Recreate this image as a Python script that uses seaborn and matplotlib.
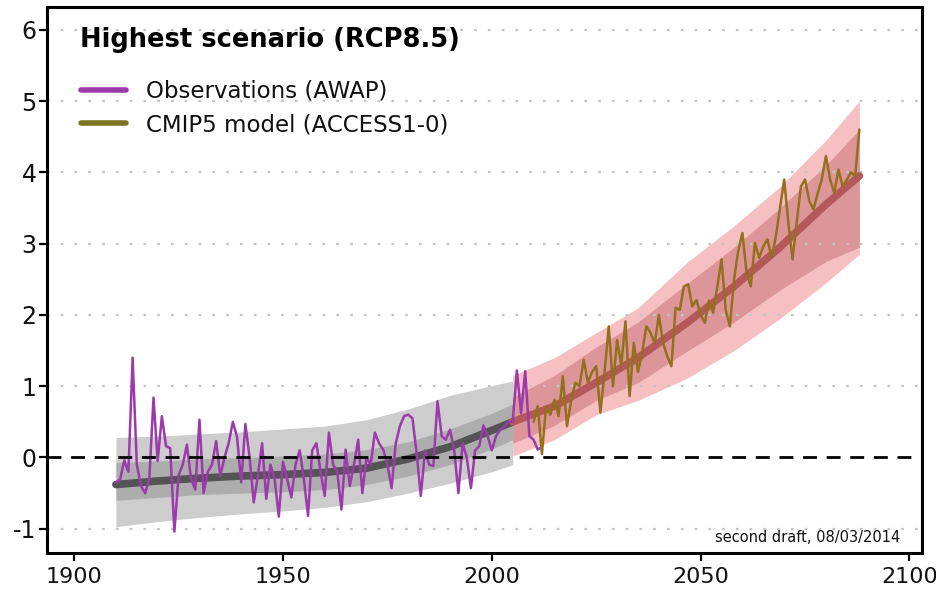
import numpy as np
import pandas as pd
import matplotlib
matplotlib.use("Agg")
import matplotlib.pyplot as plt
from matplotlib.lines import Line2D
import seaborn as sns

# ---------------- data ----------------
obs_years = list(range(1910, 2013))
obs_values = [
    -0.35, -0.31, -0.04, -0.20, 1.40, -0.10, -0.40, -0.50, -0.30, 0.84,
    -0.05, 0.58, 0.16, 0.13, -1.04, -0.25, -0.10, 0.18, -0.30, -0.45,
    0.53, -0.50, -0.20, -0.10, 0.23, -0.26, 0.00, 0.20, 0.50, 0.29,
    -0.35, 0.47, 0.00, -0.63, -0.25, 0.20, -0.58, -0.10, -0.30, -0.83,
    -0.06, -0.30, -0.56, -0.10, 0.10, -0.30, -0.82, 0.10, 0.20, -0.20,
    -0.54, 0.35, -0.10, -0.20, -0.73, 0.11, -0.40, -0.10, 0.25, -0.50,
    0.00, -0.10, 0.35, 0.20, 0.11, -0.10, -0.43, 0.20, 0.44, 0.58,
    0.60, 0.55, 0.06, -0.54, 0.10, -0.10, -0.12, 0.79, 0.30, 0.25,
    0.39, 0.10, -0.50, 0.20, 0.00, -0.43, 0.10, 0.16, 0.45, 0.30,
    0.10, 0.30, 0.39, 0.44, 0.50, 0.50, 1.22, 0.62, 1.21, 0.30,
    0.25, 0.11, 0.15,
]

model_years = list(range(2010, 2089))
model_values = [
    0.50, 0.72, 0.05, 0.72, 0.60, 0.81, 0.58, 1.14, 0.44, 0.80,
    1.05, 1.00, 1.37, 1.05, 1.20, 1.28, 0.63, 1.20, 1.84, 1.00,
    1.65, 1.30, 1.91, 0.86, 1.61, 1.20, 1.47, 1.84, 1.75, 1.60,
    2.00, 1.61, 1.42, 1.28, 2.10, 2.07, 2.40, 2.43, 2.12, 2.21,
    2.00, 1.89, 2.20, 2.03, 2.40, 2.78, 2.07, 1.84, 2.50, 2.90,
    3.15, 2.59, 2.40, 3.01, 2.80, 2.96, 3.06, 2.80, 3.10, 3.50,
    3.90, 3.30, 2.78, 3.30, 3.80, 3.90, 3.60, 3.48, 3.70, 3.90,
    4.23, 3.90, 3.71, 4.04, 3.80, 3.90, 4.00, 3.95, 4.60,
]

hist_years = [1910, 1920, 1930, 1940, 1950, 1960, 1970, 1980, 1990, 2000, 2005]
hist_median = [-0.38, -0.33, -0.29, -0.26, -0.24, -0.21, -0.15, -0.02, 0.15, 0.38, 0.50]
hist_outer_lo = [-0.97, -0.90, -0.84, -0.79, -0.75, -0.70, -0.62, -0.50, -0.36, -0.20, -0.10]
hist_outer_hi = [0.28, 0.30, 0.33, 0.36, 0.40, 0.44, 0.53, 0.68, 0.87, 1.01, 1.07]
hist_inner_lo = [-0.60, -0.56, -0.52, -0.50, -0.48, -0.45, -0.38, -0.26, -0.10, 0.12, 0.25]
hist_inner_hi = [-0.07, -0.05, -0.02, 0.00, 0.02, 0.05, 0.11, 0.22, 0.40, 0.62, 0.75]

proj_years = [2005, 2015, 2025, 2035, 2047, 2058, 2069, 2080, 2088]
proj_median = [0.50, 0.72, 1.05, 1.40, 1.90, 2.40, 2.95, 3.55, 3.95]
proj_outer_lo = [0.02, 0.25, 0.60, 0.80, 1.12, 1.50, 1.95, 2.45, 2.85]
proj_outer_hi = [1.15, 1.40, 1.75, 2.10, 2.75, 3.25, 3.80, 4.45, 5.00]
proj_inner_lo = [0.20, 0.45, 0.80, 1.05, 1.50, 1.90, 2.35, 2.75, 2.95]
proj_inner_hi = [0.85, 1.15, 1.55, 1.90, 2.45, 2.95, 3.50, 4.10, 4.60]

y_ticks = [-1, 0, 1, 2, 3, 4, 5, 6]
x_ticks = [1900, 1950, 2000, 2050, 2100]

title_text = "Highest scenario (RCP8.5)"
obs_label = "Observations (AWAP)"
model_label = "CMIP5 model (ACCESS1-0)"
note_text = "second draft, 08/03/2014"

# ---------------- style ----------------
sns.set_style("white")
plt.rcParams["font.family"] = ["DejaVu Sans"]
plt.rcParams["axes.unicode_minus"] = False
plt.rcParams["text.color"] = "black"

obs_color = "#9b3bab"
model_color = "#94701e"

W, H = 937, 596
fig = plt.figure(figsize=(W / 100, H / 100), dpi=100)
ax = fig.add_axes([47 / W, 1 - 553 / H, (922 - 47) / W, (553 - 7) / H])

# bands
ax.fill_between(hist_years, hist_outer_lo, hist_outer_hi, color="#cdcdcd", lw=0, zorder=1)
ax.fill_between(hist_years, hist_inner_lo, hist_inner_hi, color="#adadad", lw=0, zorder=1.1)
ax.fill_between(proj_years, proj_outer_lo, proj_outer_hi, color="#f6c0c2", lw=0, zorder=1)
ax.fill_between(proj_years, proj_inner_lo, proj_inner_hi, color="#dc9699", lw=0, zorder=1.1)

# grid
for yv in y_ticks:
    if yv != 0:
        ax.axhline(yv, color="#c4c4c4", lw=1.6, dashes=(1.2, 5.0), zorder=1.5)

# medians
sns.lineplot(x=hist_years, y=hist_median, color="#545454", lw=5.5, ax=ax, zorder=2,
             solid_capstyle="round")
sns.lineplot(x=proj_years, y=proj_median, color="#b4585c", lw=5.5, ax=ax, zorder=2,
             solid_capstyle="round")

# series
obs_df = pd.DataFrame({"year": obs_years, "anom": obs_values})
model_df = pd.DataFrame({"year": model_years, "anom": model_values})
sns.lineplot(data=obs_df, x="year", y="anom", color=obs_color, lw=1.8, ax=ax, zorder=3)
sns.lineplot(data=model_df, x="year", y="anom", color=model_color, lw=1.8, ax=ax, zorder=3.1)

# zero line
ax.axhline(0, color="black", lw=2.0, dashes=(5, 3.5), zorder=4)

ax.set_xlim(1893.5, 2103)
ax.set_ylim(-1.34, 6.32)
ax.set_xticks(x_ticks)
ax.set_yticks(y_ticks)
ax.set_yticklabels([str(v) for v in y_ticks])
ax.set_xlabel("")
ax.set_ylabel("")
ax.tick_params(axis="both", which="major", length=6, width=1.6, direction="out",
               bottom=True, left=True, top=False, right=False,
               colors="black", labelcolor="#111111")
ax.tick_params(axis="y", labelsize=17, pad=1.5)
ax.tick_params(axis="x", labelsize=16, pad=4)
for sp in ax.spines.values():
    sp.set_visible(True)
    sp.set_color("black")
    sp.set_linewidth(2.2)

# title + legend
fig.text(80 / W, 1 - 40 / H, title_text, ha="left", va="center",
         fontsize=18.5, fontweight="bold", color="black")
handles = [Line2D([], [], color=obs_color, lw=4),
           Line2D([], [], color="#7d7620", lw=4)]
leg = fig.legend(handles, [obs_label, model_label], loc="upper left",
                 bbox_to_anchor=(81 / W, 1 - 80 / H), frameon=False,
                 fontsize=16.5, handlelength=1.97, handletextpad=0.87,
                 labelspacing=0.45, borderpad=0, borderaxespad=0)
for t in leg.get_texts():
    t.set_color("#111111")

ax.text(0.975, 16 / 546, note_text, transform=ax.transAxes, ha="right", va="center",
        fontsize=10.5, color="#111111", zorder=5)

fig.savefig("out.png", dpi=100)
